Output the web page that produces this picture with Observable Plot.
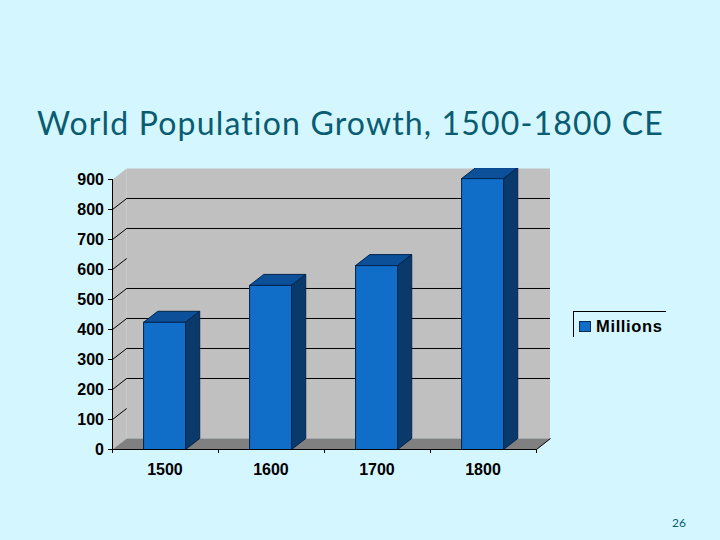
<!DOCTYPE html>
<html>
<head>
<meta charset="utf-8">
<script src="https://cdn.jsdelivr.net/npm/d3@7"></script>
<script src="https://cdn.jsdelivr.net/npm/@observablehq/plot@0.6"></script>
<style>
html,body{margin:0;padding:0;background:#d4f7ff;width:720px;height:540px;overflow:hidden}
#title{position:absolute;left:37px;top:102px;font:32px Lato,sans-serif;color:#0a5c72;white-space:nowrap;line-height:42px;letter-spacing:1.16px;font-variant-ligatures:none}
#chart{position:absolute;left:0;top:160px}
#legend{position:absolute;left:573px;top:311px;width:92px;height:25px;border-top:1px solid #000;border-left:1px solid #000;box-sizing:content-box}
#legend i{position:absolute;left:5px;top:9px;width:10px;height:9px;background:#106ec8;border:1px solid #0a2a55}
#legend span{position:absolute;left:22px;top:5px;font:bold 16.5px/18px "Liberation Sans",Arial,sans-serif;letter-spacing:.65px;color:#000}
#page{position:absolute;left:672px;top:516px;font:12px/14px Lato,sans-serif;color:#0a5c72}
</style>
</head>
<body>
<div id="title">World Population Growth, 1500-1800 CE</div>
<div id="chart"></div>
<div id="legend"><i></i><span>Millions</span></div>
<div id="page">26</div>
<script>
const years = ["1500", "1600", "1700", "1800"];
const millions = [424, 547, 613, 903];
const yTicks = [0, 100, 200, 300, 400, 500, 600, 700, 800, 900];
const backGrid = [200, 300, 400, 500, 700, 800];
const seriesName = "Millions";

const dx = 0.134, dy = 36.67, barStart = 0.293, barWidth = 0.396, yMax = 900 + dy, xMax = 4.132;

const poly = (pts, fill, stroke = "none") =>
  Plot.line([...pts, pts[0]].map(([x, y]) => ({x, y})), {
    x: "x", y: "y", fill, stroke, strokeWidth: 1, clip: true, curve: "linear"
  });

const barMarks = millions.flatMap((v, i) => {
  const a = i + barStart, b = a + barWidth, edge = "#04244c";
  return [
    poly([[a, v], [a + dx, v + dy], [b + dx, v + dy], [b, v]], "#0b5099", edge),
    poly([[b, 0], [b + dx, dy], [b + dx, v + dy], [b, v]], "#0a3a6b", edge),
    poly([[a, 0], [b, 0], [b, v], [a, v]], "#106ec8", edge)
  ];
});

const chart = Plot.plot({
  width: 720, height: 330,
  marginLeft: 112, marginRight: 170, marginTop: 8, marginBottom: 41,
  style: {background: "transparent", overflow: "visible"},
  x: {domain: [0, xMax], axis: null},
  y: {domain: [0, yMax], axis: null},
  marks: [
    poly([[dx, dy], [xMax, dy], [xMax, yMax], [dx, yMax]], "#c0c0c0"),
    poly([[0, 0], [dx, dy], [dx, yMax], [0, 900]], "#c0c0c0"),
    poly([[0, 0], [4, 0], [xMax, dy], [dx, dy]], "#808080"),
    Plot.link(yTicks.filter(t => t > 0 && t < 900), {
      x1: () => 0, y1: t => t, x2: () => dx, y2: t => t + dy, stroke: "#000", strokeWidth: 1
    }),
    Plot.ruleY(backGrid, {y: t => t + dy, x1: dx, x2: xMax, stroke: "#000", strokeWidth: 1}),
    ...barMarks,
    Plot.ruleX([0], {y1: 0, y2: 900, stroke: "#000"}),
    Plot.ruleY([0], {x1: 0, x2: 4, stroke: "#000"}),
    Plot.link([0], {x1: () => 4, y1: () => 0, x2: () => xMax, y2: () => dy, stroke: "#000"}),
    Plot.axisY({
      ticks: yTicks, tickSize: 4, tickPadding: 4.5, label: null, anchor: "left",
      fontSize: 16, fontWeight: "bold", fontFamily: "Liberation Sans, Arial, sans-serif",
      stroke: "#000", fill: "#000", tickFormat: d => String(d)
    }),
    Plot.axisX({
      ticks: [0, 1, 2, 3, 4], tickSize: 4, tickFormat: () => "", label: null, anchor: "bottom", stroke: "#000"
    }),
    Plot.text(years, {
      x: (d, i) => i + 0.495, y: () => 0, text: d => d, dy: 20,
      fontSize: 16, fontWeight: "bold", fontFamily: "Liberation Sans, Arial, sans-serif", fill: "#000"
    })
  ]
});
document.getElementById("chart").append(chart);
</script>
</body>
</html>
